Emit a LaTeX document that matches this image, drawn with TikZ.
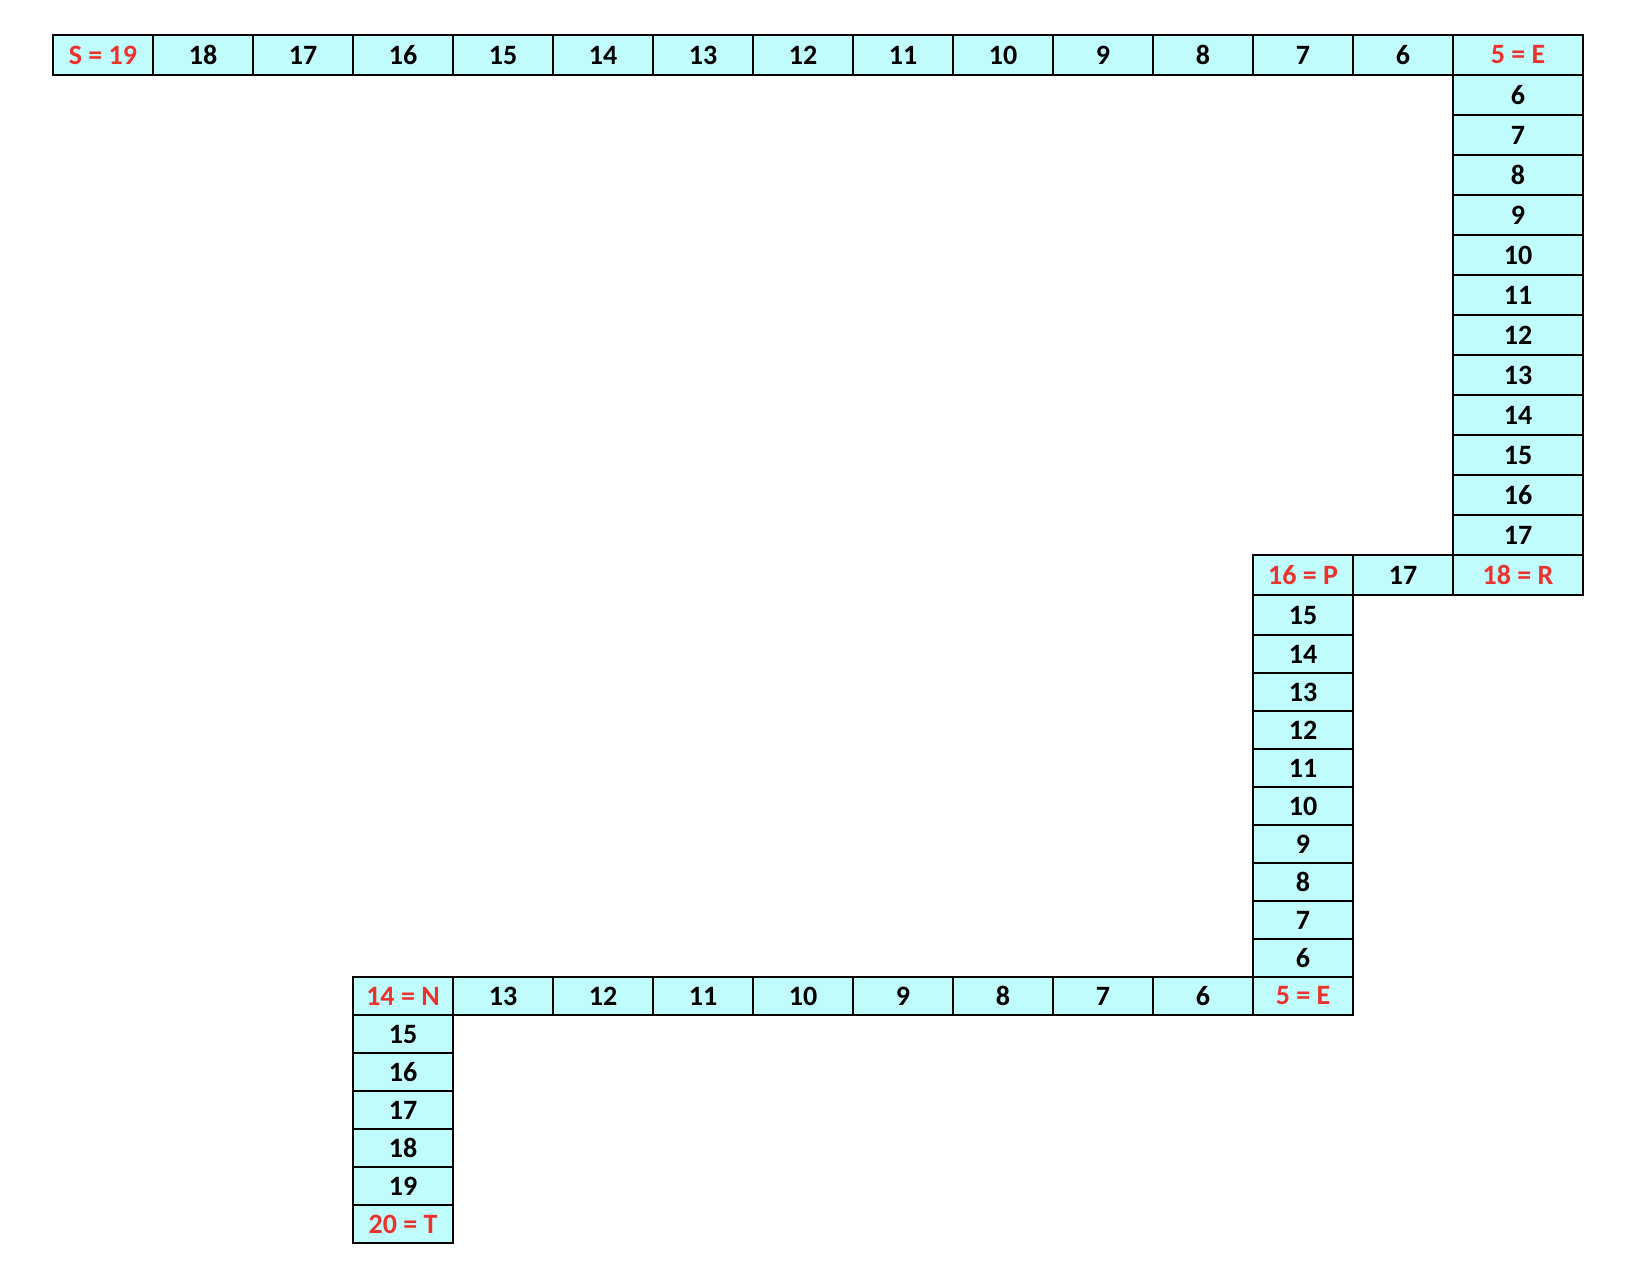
\documentclass[tikz,border=0pt]{standalone}
\usepackage{fontspec}
\setmainfont{Carlito}
\definecolor{cellfill}{RGB}{192,252,252}
\definecolor{keyred}{RGB}{235,50,45}
\tikzset{
  cellbox/.style={draw=black, line width=1.3pt, fill=cellfill, inner sep=0pt, outer sep=0pt,
    font=\fontsize{28}{30}\selectfont\bfseries, text=black},
  keycell/.style={cellbox, text=keyred}
}
% name, x0, y0, width, height, text, style
\newcommand{\gridcell}[7]{%
  \node[#7, minimum width={(#4)*1pt}, minimum height={(#5)*1pt}] (#1) at ({#2+(#4)/2},{#3+(#5)/2}) {#6};}
\begin{document}
\begin{tikzpicture}[x=1pt,y=-1pt]
\useasboundingbox (0,0) rectangle (1652,1270);
% top row
\gridcell{t0}{53}{35}{100}{40}{S = 19}{keycell}
\foreach \i in {1,...,13} {
  \pgfmathtruncatemacro\lab{19-\i}
  \gridcell{t\i}{53+100*\i}{35}{100}{40}{\lab}{cellbox}
}
\gridcell{tE}{1453}{35}{130}{40}{5 = E}{keycell}
% right column
\foreach \k in {1,...,12} {
  \pgfmathtruncatemacro\lab{5+\k}
  \gridcell{r\k}{1453}{35+40*\k}{130}{40}{\lab}{cellbox}
}
\gridcell{rR}{1453}{555}{130}{40}{18 = R}{keycell}
\gridcell{m17}{1353}{555}{100}{40}{17}{cellbox}
\gridcell{mP}{1253}{555}{100}{40}{16 = P}{keycell}
% middle column
\gridcell{m15}{1253}{595}{100}{40}{15}{cellbox}
\foreach \k in {1,...,9} {
  \pgfmathtruncatemacro\lab{15-\k}
  \gridcell{c\k}{1253}{635+38*(\k-1)}{100}{38}{\lab}{cellbox}
}
\gridcell{mE}{1253}{977}{100}{38}{5 = E}{keycell}
% bottom row
\gridcell{bN}{353}{977}{100}{38}{14 = N}{keycell}
\foreach \j in {1,...,8} {
  \pgfmathtruncatemacro\lab{14-\j}
  \gridcell{b\j}{353+100*\j}{977}{100}{38}{\lab}{cellbox}
}
% left column
\foreach \m in {0,...,4} {
  \pgfmathtruncatemacro\lab{15+\m}
  \gridcell{l\m}{353}{1015+38*\m}{100}{38}{\lab}{cellbox}
}
\gridcell{lT}{353}{1205}{100}{38}{20 = T}{keycell}
\end{tikzpicture}
\end{document}
